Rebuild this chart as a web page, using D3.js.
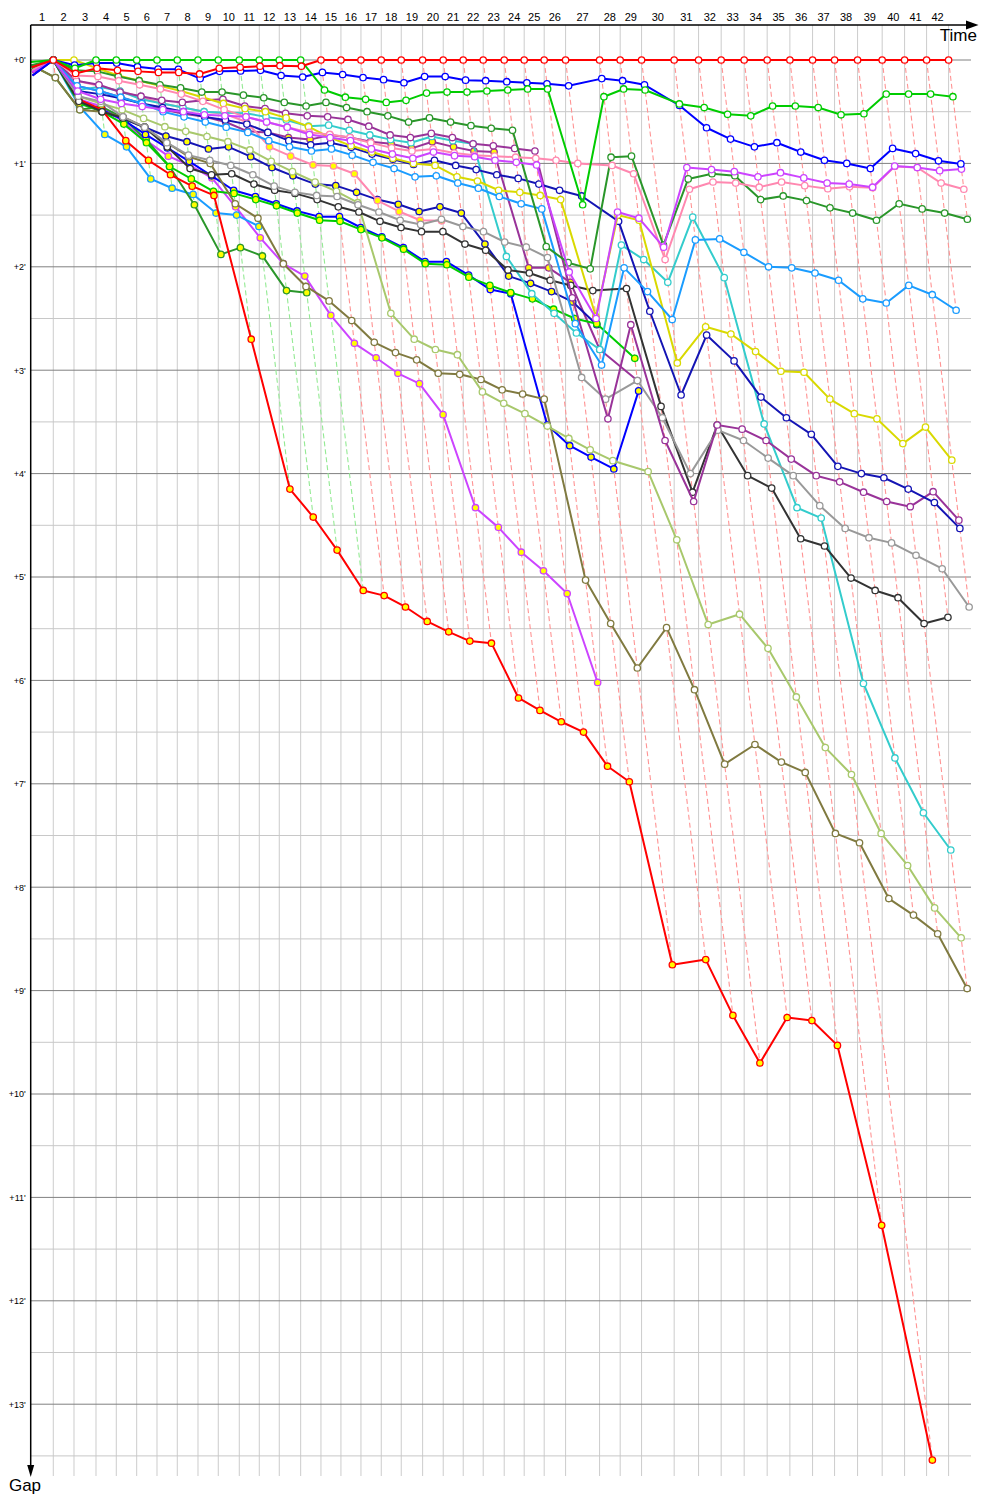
<!DOCTYPE html>
<html>
<head>
<meta charset="utf-8">
<script src="https://cdn.jsdelivr.net/npm/d3@7"></script>
<style>
  body { margin: 0; background: #fff; }
  text { font-family: "Liberation Sans", Arial, sans-serif; }
</style>
</head>
<body>
<div id="chart"></div>
<script>
// 1: DATA
// leader lap durations (seconds), laps 1..42
const leaderLapSeconds = [111.1, 101.8, 108.2, 99.8, 100.4, 99.8, 99.8, 101.8, 99.8, 103.3,
  98.4, 98.3, 105.2, 99.8, 98.3, 98.4, 99.8, 98.3, 105.2, 101.3,
  98.3, 98.3, 103.3, 98.3, 98.3, 105.2, 167.2, 101.3, 105.2, 160.3,
  120.0, 111.2, 113.1, 113.1, 111.7, 111.6, 108.2, 113.1, 121.0, 110.2,
  108.2, 108.2];

// gap to leader (minutes) for each car, index = lap (0 = start)
const redA = [0.07, 0, 0.13, 0.08, 0.10, 0.11, 0.12, 0.12, 0.135, 0.08, 0.07, 0.06, 0.055, 0.06,
  0, 0, 0, 0, 0, 0, 0, 0, 0, 0, 0, 0, 0, 0, 0, 0, 0, 0, 0, 0, 0, 0, 0, 0, 0, 0, 0, 0, 0];
const greenA = [0.02, 0, 0.08, 0, 0, 0, 0, 0, 0, 0, 0, 0, 0, 0,
  0.29, 0.36, 0.38, 0.41, 0.39, 0.32, 0.31, 0.31, 0.30, 0.29, 0.28, 0.28, 1.40, 0.355, 0.28, 0.29,
  0.425, 0.46, 0.525, 0.54, 0.445, 0.445, 0.46, 0.53, 0.52, 0.33, 0.33, 0.33, 0.355];
const blueA = [0.15, 0, 0.05, 0.03, 0.03, 0.065, 0.087, 0.09, 0.18, 0.11, 0.106, 0.10, 0.15, 0.165,
  0.12, 0.14, 0.17, 0.19, 0.22, 0.16, 0.16, 0.195, 0.20, 0.21, 0.22, 0.23, 0.25, 0.18, 0.20, 0.24,
  0.44, 0.655, 0.765, 0.84, 0.80, 0.89, 0.97, 1.0, 1.05, 0.855, 0.905, 0.975, 1.005];
const violetA = [0.12, 0, 0.3, 0.38, 0.42, 0.45, 0.48, 0.50, 0.53, 0.54, 0.55, 0.6, 0.65, 0.72,
  0.75, 0.78, 0.86, 0.91, 0.95, 0.89, 0.925, 0.935, 0.97, 0.99, 1.015, 2.05, 2.50, 1.47, 1.53, 1.81,
  1.04, 1.06, 1.08, 1.13, 1.09, 1.14, 1.19, 1.20, 1.23, 1.025, 1.04, 1.07, 1.055];
const pinkA = [0.1, 0, 0.15, 0.16, 0.20, 0.24, 0.28, 0.33, 0.40, 0.48, 0.55, 0.6, 0.65, 0.7,
  0.72, 0.75, 0.8, 0.85, 0.88, 0.86, 0.9, 0.92, 0.93, 0.94, 0.95, 0.97, 1.0, 1.02, 1.10, 1.93,
  1.25, 1.18, 1.19, 1.23, 1.18, 1.215, 1.245, 1.225, 1.235, 1.03, 1.04, 1.19, 1.25];
const darkGreenA = [0.05, 0, 0.1, 0.11, 0.16, 0.20, 0.24, 0.27, 0.31, 0.31, 0.34, 0.365, 0.41, 0.445,
  0.41, 0.46, 0.50, 0.54, 0.60, 0.56, 0.60, 0.635, 0.66, 0.68, 1.805, 1.96, 2.02, 0.94, 0.93, 1.79,
  1.15, 1.10, 1.12, 1.35, 1.315, 1.36, 1.43, 1.48, 1.55, 1.39, 1.44, 1.48, 1.54];
const lightBlueA = [0.1, 0, 0.25, 0.3, 0.36, 0.42, 0.5, 0.55, 0.6, 0.65, 0.70, 0.78, 0.84, 0.88,
  0.86, 0.92, 0.99, 1.05, 1.13, 1.12, 1.19, 1.24, 1.32, 1.39, 1.44, 2.55, 2.95, 2.01, 2.24, 2.51,
  1.74, 1.73, 1.86, 2.00, 2.01, 2.06, 2.13, 2.31, 2.35, 2.18, 2.27, 2.42];
const yellowA = [0.1, 0, 0, 0.08, 0.15, 0.2, 0.25, 0.3, 0.36, 0.42, 0.47, 0.5, 0.56, 0.645,
  0.75, 0.83, 0.89, 0.95, 1.0, 1.02, 1.13, 1.17, 1.26, 1.28, 1.31, 1.35, 2.48, 1.50, 1.55, 2.93,
  2.58, 2.65, 2.82, 3.01, 3.02, 3.28, 3.42, 3.47, 3.71, 3.55, 3.87];
const navyA = [0.15, 0, 0.3, 0.33, 0.37, 0.42, 0.46, 0.5, 0.55, 0.58, 0.62, 0.70, 0.78, 0.82,
  0.80, 0.845, 0.91, 0.96, 1.01, 0.97, 1.02, 1.06, 1.11, 1.145, 1.20, 1.26, 1.315, 1.56, 2.43, 3.24,
  2.66, 2.91, 3.26, 3.46, 3.62, 3.93, 4.00, 4.04, 4.15, 4.28, 4.53];
const purpleA = [0.15, 0, 0.2, 0.24, 0.31, 0.35, 0.39, 0.41, 0.39, 0.38, 0.445, 0.47, 0.515, 0.54,
  0.55, 0.575, 0.64, 0.725, 0.75, 0.71, 0.75, 0.81, 0.83, 0.855, 0.88, 2.3, 3.47, 2.56, 3.68, 4.27,
  3.53, 3.57, 3.68, 3.86, 4.02, 4.08, 4.18, 4.27, 4.32, 4.175, 4.45];
const grayA = [0.1, 0, 0.35, 0.4, 0.55, 0.65, 0.8, 0.92, 0.97, 1.02, 1.11, 1.22, 1.28, 1.31,
  1.32, 1.40, 1.47, 1.55, 1.59, 1.54, 1.61, 1.66, 1.76, 1.81, 1.91, 3.07, 3.28, 3.10, 3.46, 4.00,
  3.58, 3.68, 3.85, 4.02, 4.31, 4.53, 4.62, 4.67, 4.79, 4.92, 5.29];
const blackA = [0.1, 0, 0.4, 0.5, 0.56, 0.65, 0.84, 1.05, 1.11, 1.10, 1.20, 1.26, 1.29, 1.35,
  1.42, 1.47, 1.56, 1.62, 1.66, 1.66, 1.78, 1.84, 2.03, 2.06, 2.13, 2.18, 2.23, 2.21, 3.35, 4.18,
  3.53, 4.02, 4.14, 4.63, 4.70, 5.01, 5.13, 5.20, 5.45, 5.39];
const cyanA = [0.1, 0, 0.29, 0.26, 0.30, 0.38, 0.42, 0.46, 0.5, 0.51, 0.515, 0.55, 0.58, 0.64,
  0.63, 0.68, 0.725, 0.77, 0.80, 0.74, 0.78, 0.81, 1.90, 2.26, 2.45, 2.64, 2.80, 1.79, 1.93, 2.15,
  1.52, 2.105, 3.52, 4.33, 4.43, 6.03, 6.75, 7.28, 7.64];
const lightOliveA = [0.1, 0, 0.35, 0.42, 0.48, 0.565, 0.645, 0.69, 0.74, 0.79, 0.87, 0.98, 1.08, 1.18,
  1.27, 1.38, 2.45, 2.70, 2.80, 2.85, 3.21, 3.32, 3.42, 3.54, 3.66, 3.77, 3.875, 3.98, 4.64, 5.46,
  5.36, 5.69, 6.16, 6.65, 6.91, 7.48, 7.79, 8.20, 8.49];
const oliveA = [0.05, 0.17, 0.48, 0.5, 0.55, 0.65, 0.8, 0.935, 1.0, 1.39, 1.53, 1.97, 2.19, 2.33,
  2.52, 2.73, 2.83, 2.90, 3.03, 3.04, 3.09, 3.19, 3.23, 3.28, 5.03, 5.45, 5.88, 5.49, 6.09, 6.81,
  6.62, 6.79, 6.89, 7.48, 7.57, 8.11, 8.27, 8.45, 8.98];
const redB = [0.12, 0, 0.38, 0.48, 0.78, 0.97, 1.11, 1.22, 1.31, 2.70, 4.15, 4.42, 4.74, 5.13,
  5.18, 5.29, 5.43, 5.53, 5.62, 5.64, 6.17, 6.29, 6.40, 6.50, 6.83, 6.98, 8.75, 8.70, 9.24, 9.70,
  9.26, 9.29, 9.53, 11.27, 13.54];
const greenB = [0.08, 0, 0.42, 0.5, 0.62, 0.8, 1.03, 1.15, 1.27, 1.29, 1.35, 1.41, 1.48, 1.55,
  1.56, 1.64, 1.72, 1.83, 1.97, 1.98, 2.10, 2.18, 2.25, 2.31, 2.41, 2.50, 2.55, 2.885];
const blueB = [0.12, 0, 0.40, 0.48, 0.58, 0.72, 0.85, 0.98, 1.12, 1.26, 1.32, 1.39, 1.46, 1.515,
  1.515, 1.62, 1.71, 1.815, 1.95, 1.95, 2.08, 2.22, 2.26, 3.53, 3.73, 3.84, 3.955, 3.20];
const darkGreenB = [0.05, 0.17, 0.48, 0.45, 0.56, 0.77, 1.03, 1.40, 1.88, 1.815, 1.895, 2.23, 2.25];
const lightBlueB = [0.1, 0, 0.45, 0.72, 0.84, 1.15, 1.24, 1.30, 1.48, 1.50, 1.61];
const pinkB = [0.1, 0, 0.2, 0.25, 0.3, 0.36, 0.42, 0.46, 0.5, 0.52, 0.6, 0.84, 0.93, 1.015,
  1.025, 1.10, 1.36, 1.465, 1.55, 1.555];
const violetB = [0.1, 0, 0.38, 0.45, 0.6, 0.78, 0.93, 1.02, 1.14, 1.42, 1.72, 1.97, 2.09, 2.47,
  2.74, 2.88, 3.03, 3.13, 3.43, 4.33, 4.52, 4.76, 4.94, 5.16, 6.02];
const navyB = [0.1, 0, 0.4, 0.5, 0.57, 0.65, 0.735, 0.79, 0.86, 0.84, 0.935, 1.04, 1.12, 1.20,
  1.215, 1.28, 1.35, 1.395, 1.465, 1.42, 1.48, 1.78, 2.09, 2.16, 2.24, 2.34, 2.56];
const purpleB = [0.1, 0, 0.25, 0.3, 0.36, 0.42, 0.48, 0.52, 0.55, 0.6, 0.69, 0.70, 0.75, 0.77,
  0.725, 0.75, 0.79, 0.81, 0.855, 0.79, 0.84, 0.88, 0.89, 2.01, 2.01, 2.15, 2.80, 3.10];

const gapTicks = d3.range(0, 14); // +0' .. +13'

// styles (kept apart from the values)
const carStyle = [
  ["redA", redA, "#ff0000", "#ffffff"],
  ["greenA", greenA, "#00cc00", "#ffffff"],
  ["blueA", blueA, "#0000ff", "#ffffff"],
  ["violetA", violetA, "#cc44ff", "#ffffff"],
  ["pinkA", pinkA, "#ff88b0", "#ffffff"],
  ["darkGreenA", darkGreenA, "#2a962a", "#ffffff"],
  ["lightBlueA", lightBlueA, "#1a9cff", "#ffffff"],
  ["yellowA", yellowA, "#d9d900", "#ffffff"],
  ["navyA", navyA, "#1414b4", "#ffffff"],
  ["purpleA", purpleA, "#993399", "#ffffff"],
  ["grayA", grayA, "#999999", "#ffffff"],
  ["blackA", blackA, "#333333", "#ffffff"],
  ["cyanA", cyanA, "#33cccc", "#ffffff"],
  ["lightOliveA", lightOliveA, "#a8c86c", "#ffffff"],
  ["oliveA", oliveA, "#807a40", "#ffffff"],
  ["redB", redB, "#ff0000", "#ffff00"],
  ["greenB", greenB, "#00cc00", "#ffff00"],
  ["blueB", blueB, "#0000ff", "#ffff00"],
  ["darkGreenB", darkGreenB, "#2a962a", "#ffff00"],
  ["lightBlueB", lightBlueB, "#1a9cff", "#ffff00"],
  ["pinkB", pinkB, "#ff88b0", "#ffff00"],
  ["violetB", violetB, "#cc44ff", "#ffff00"],
  ["navyB", navyB, "#1414b4", "#ffff00"],
  ["purpleB", purpleB, "#993399", "#ffff00"]
];

// 2: SVG + SCALES
const width = 1000, height = 1500;
const axisTop = 25, axisBottom = 1476, plotRight = 971;

const svg = d3.select("#chart").append("svg")
  .attr("width", width).attr("height", height);

// x = elapsed time (minutes), y = gap to leader (minutes)
const x = d3.scaleLinear().domain([0, 77.4]).range([30.7, 975]);
const y = d3.scaleLinear().domain([0, 13.5]).range([60, 60 + 13.5 * 103.4]);

// leader's cumulative time at end of each lap
const lapEnd = [0, ...d3.cumsum(leaderLapSeconds).map(s => s / 60)];
const nLaps = leaderLapSeconds.length;

const cars = carStyle.map(([name, gaps, color, fill]) => ({
  name, color, fill,
  points: gaps.map((g, lap) => ({ lap, g, t: lapEnd[lap] + g }))
}));

// 3: GRID
const grid = svg.append("g");
grid.selectAll("line.v")
  .data(lapEnd.slice(1))
  .enter().append("line")
  .attr("x1", d => x(d)).attr("x2", d => x(d))
  .attr("y1", axisTop).attr("y2", axisBottom)
  .attr("stroke", "#cccccc").attr("stroke-width", 1);

grid.selectAll("line.h")
  .data(d3.range(0, 13.51, 0.5))
  .enter().append("line")
  .attr("x1", x(0)).attr("x2", plotRight)
  .attr("y1", d => y(d)).attr("y2", d => y(d))
  .attr("stroke", d => d % 1 === 0 ? "#808080" : "#c8c8c8")
  .attr("stroke-width", 1);

// 4: LAP LINES (dashed, coloured by that lap's leader)
const lapLines = d3.range(1, nLaps + 1).map(lap => {
  const onLap = cars.filter(c => c.points[lap]);
  const gmax = d3.max(onLap, c => c.points[lap].g);
  const leader = onLap.find(c => c.points[lap].g === 0) || onLap[0];
  return { lap, gmax, color: d3.interpolateRgb(leader.color, "#ffffff")(0.58) };
});
svg.append("g").selectAll("line")
  .data(lapLines)
  .enter().append("line")
  .attr("x1", d => x(lapEnd[d.lap])).attr("y1", y(0))
  .attr("x2", d => x(lapEnd[d.lap] + d.gmax)).attr("y2", d => y(d.gmax))
  .attr("stroke", d => d.color)
  .attr("stroke-width", 1.1)
  .attr("stroke-dasharray", "5,3");

// 5: CAR LINES + MARKERS
const line = d3.line().x(d => x(d.t)).y(d => y(d.g));
const carG = svg.append("g").selectAll("g")
  .data(cars.slice().reverse())
  .enter().append("g");

carG.append("path")
  .attr("d", d => line(d.points))
  .attr("fill", "none")
  .attr("stroke", d => d.color)
  .attr("stroke-width", 2)
  .attr("stroke-linejoin", "round");

carG.selectAll("circle")
  .data(d => d.points.filter(p => p.lap > 0).map(p => ({ ...p, color: d.color, fill: d.fill })))
  .enter().append("circle")
  .attr("cx", d => x(d.t))
  .attr("cy", d => y(d.g))
  .attr("r", 3.2)
  .attr("fill", d => d.fill)
  .attr("stroke", d => d.color)
  .attr("stroke-width", 1.3);

// 6: AXES
// top axis line with arrow
svg.append("line")
  .attr("x1", x(0)).attr("x2", 968).attr("y1", axisTop).attr("y2", axisTop)
  .attr("stroke", "#000").attr("stroke-width", 1.5);
svg.append("path")
  .attr("d", `M966,${axisTop - 4.5}L978.5,${axisTop}L966,${axisTop + 4.5}Z`)
  .attr("fill", "#000");
// left axis line with arrow
svg.append("line")
  .attr("x1", x(0)).attr("x2", x(0)).attr("y1", axisTop).attr("y2", 1466)
  .attr("stroke", "#000").attr("stroke-width", 1.5);
svg.append("path")
  .attr("d", `M${x(0) - 3.5},1465L${x(0)},1477L${x(0) + 3.5},1465Z`)
  .attr("fill", "#000");

// lap numbers, centred in each lap
svg.append("g").selectAll("text")
  .data(d3.range(1, nLaps + 1))
  .enter().append("text")
  .attr("x", d => x((lapEnd[d - 1] + lapEnd[d]) / 2))
  .attr("y", 21)
  .attr("text-anchor", "middle")
  .attr("font-size", 11)
  .text(d => d);

// gap ticks
const yAxis = svg.append("g")
  .attr("transform", `translate(${x(0)},0)`)
  .call(d3.axisLeft(y).tickValues(gapTicks).tickSize(0).tickPadding(5)
    .tickFormat(d => "+" + d + "'"));
yAxis.select(".domain").remove();
yAxis.selectAll("text")
  .attr("font-family", "\"Liberation Sans\", Arial, sans-serif")
  .attr("font-size", 9);

// axis titles
svg.append("text")
  .attr("x", 977).attr("y", 41)
  .attr("text-anchor", "end")
  .attr("font-size", 17)
  .text("Time");
svg.append("text")
  .attr("x", 25).attr("y", 1491)
  .attr("text-anchor", "middle")
  .attr("font-size", 17)
  .text("Gap");
</script>
</body>
</html>
